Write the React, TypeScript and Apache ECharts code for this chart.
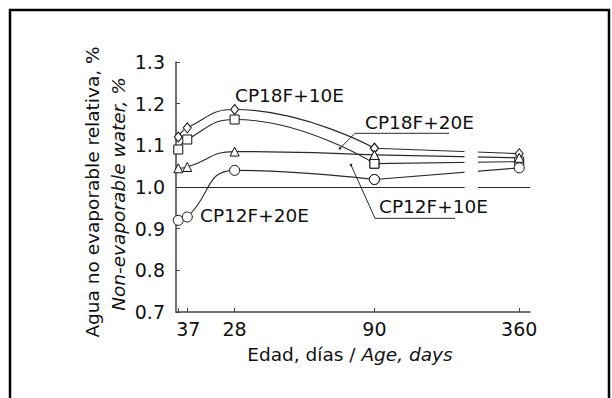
import React, { useEffect, useRef } from "react";
import * as echarts from "echarts";

// ---- data ----
const days = [3, 7, 28, 90, 360];
const xTickDays = [3, 7, 28, 90, 360];
const cp18f10e = [1.12, 1.142, 1.186, 1.093, 1.08]; // diamonds
const cp18f20e = [1.09, 1.114, 1.162, 1.056, 1.061]; // squares
const cp12f10e = [1.045, 1.048, 1.085, 1.077, 1.07]; // triangles
const cp12f20e = [0.92, 0.928, 1.04, 1.018, 1.046]; // circles
const referenceLevel = 1.0;
const axisBreakDays = [258, 283];
const yTickLabels = ["0.7", "0.8", "0.9", "1.0", "1.1", "1.2", "1.3"];

// broken time axis: linear up to 90 days, compressed after that
const KNEE = 90;
const COMPRESS = 0.2378;
const pos = (d: number) => (d <= KNEE ? d : KNEE + (d - KNEE) * COMPRESS);
const dayOf = (p: number) => (p <= KNEE ? p : KNEE + (p - KNEE) / COMPRESS);

const FONT = '"DejaVu Sans", Verdana, sans-serif';
const INK = "#111";
const LINE = "#2a2a2a";

const seriesDefs = [
  { name: "CP18F+10E", values: cp18f10e, symbol: "diamond", size: [8, 10] },
  { name: "CP18F+20E", values: cp18f20e, symbol: "rect", size: 9 },
  { name: "CP12F+10E", values: cp12f10e, symbol: "triangle", size: 9 },
  { name: "CP12F+20E", values: cp12f20e, symbol: "circle", size: 10 },
];

export default function App() {
  const ref = useRef<HTMLDivElement>(null);
  useEffect(() => {
    if (!ref.current) return;
    const chart = echarts.init(ref.current, undefined, { renderer: "svg" });
    const series: any[] = [];
    seriesDefs.forEach((s, k) => {
      const itemStyle = { color: "#fff", borderColor: INK, borderWidth: 1 };
      series.push({
        name: s.name,
        type: "line",
        smooth: 0.5,
        data: days.slice(0, 4).map((d, i) => [pos(d), s.values[i]]),
        symbol: s.symbol,
        symbolSize: s.size,
        itemStyle,
        lineStyle: { color: LINE, width: 1.1 },
        z: 3,
        markLine:
          k === 0
            ? {
                silent: true,
                symbol: "none",
                label: { show: false },
                lineStyle: { color: LINE, width: 1.1, type: "solid" },
                data: [{ yAxis: referenceLevel }],
              }
            : undefined,
      });
      series.push({
        name: s.name + " late",
        type: "line",
        data: days.slice(3).map((d, i) => [pos(d), s.values[i + 3]]),
        symbol: s.symbol,
        symbolSize: s.size,
        itemStyle,
        lineStyle: { color: LINE, width: 1.1 },
        z: 3,
      });
    });

    const shift: Record<string, string> = { "3": "s3", "7": "s7" };
    const tickFont = { fontFamily: FONT, fontSize: 19, color: INK };
    chart.setOption({
      animation: false,
      grid: { left: 176, right: 82, top: 62, bottom: 86 },
      xAxis: {
        type: "value",
        min: 2,
        max: 159,
        splitLine: { show: false },
        axisLine: { lineStyle: { color: "#444", width: 1.5 } },
        axisTick: { inside: true, length: 4, customValues: xTickDays.map(pos), lineStyle: { color: "#444" } },
        axisLabel: {
          customValues: xTickDays.map(pos),
          hideOverlap: false,
          margin: 7,
          ...tickFont,
          formatter: (p: number) => {
            const t = String(Math.round(dayOf(p)));
            return shift[t] ? `{${shift[t]}|${t}}` : `{n|${t}}`;
          },
          rich: {
            s3: { ...tickFont, padding: [0, 0, 0, 8] },
            s7: { ...tickFont, padding: [0, 0, 0, 14] },
            n: { ...tickFont },
          },
        },
      },
      yAxis: {
        type: "value",
        min: 0.7,
        max: 1.3,
        interval: 0.1,
        splitLine: { show: false },
        axisLine: { show: true, lineStyle: { color: "#444", width: 1.5 } },
        axisTick: { show: true, inside: true, length: 4, lineStyle: { color: "#444" } },
        axisLabel: {
          margin: 11,
          hideOverlap: false,
          ...tickFont,
          formatter: (v: number) => yTickLabels[Math.round((v - 0.7) * 10)] ?? v.toFixed(1),
        },
      },
      series,
    });

    const px = (x: number, y: number) => chart.convertToPixel({ gridIndex: 0 }, [x, y]) as number[];
    const b0 = px(pos(axisBreakDays[0]), 1.11);
    const b1 = px(pos(axisBreakDays[1]), 0.98);
    const annFont = `18.5px ${FONT}`;
    const ann = (text: string, x: number, y: number) => ({
      type: "text",
      x,
      y,
      z: 60,
      style: { text, font: annFont, fill: INK, align: "left", verticalAlign: "middle" },
    });
    const seg = (x1: number, y1: number, x2: number, y2: number) => ({
      type: "line",
      z: 60,
      shape: { x1, y1, x2, y2 },
      style: { stroke: LINE, lineWidth: 1 },
    });
    const dot = (cx: number, cy: number) => ({
      type: "circle",
      z: 60,
      shape: { cx, cy, r: 1.3 },
      style: { fill: LINE },
    });

    chart.setOption({
      graphic: [
        {
          type: "rect",
          z: 50,
          shape: { x: b0[0], y: b0[1], width: b1[0] - b0[0], height: b1[1] - b0[1] },
          style: { fill: "#fff" },
        },
        {
          type: "rect",
          z: 70,
          shape: { x: 10, y: 10, width: 599, height: 420 },
          style: { fill: "none", stroke: "#000", lineWidth: 2.5 },
        },
        {
          type: "text",
          x: 92,
          y: 192,
          rotation: Math.PI / 2,
          z: 60,
          style: { text: "Agua no evaporable relativa, %", font: annFont, fill: INK, align: "center", verticalAlign: "middle" },
        },
        {
          type: "text",
          x: 118,
          y: 194,
          rotation: Math.PI / 2,
          z: 60,
          style: { text: "Non-evaporable water, %", font: `italic ${annFont}`, fill: INK, align: "center", verticalAlign: "middle" },
        },
        {
          type: "text",
          x: 350,
          y: 354,
          z: 60,
          style: {
            text: "{a|Edad, días / }{b|Age, days}",
            align: "center",
            verticalAlign: "middle",
            rich: {
              a: { font: annFont, fill: INK },
              b: { font: `italic ${annFont}`, fill: INK },
            },
          },
        },
        ann("CP18F+10E", 235, 95),
        ann("CP18F+20E", 365, 122),
        ann("CP12F+10E", 379, 206),
        ann("CP12F+20E", 200, 215),
        seg(355, 133.3, 449, 133.3),
        seg(355, 133.3, 340, 148.3),
        dot(340, 148.3),
        seg(375, 218.3, 455, 218.3),
        seg(375, 218.3, 351, 165),
        dot(351, 165),
      ],
    });
    return () => chart.dispose();
  }, []);
  return (
    <div
      ref={ref}
      style={{ position: "fixed", left: 0, top: 0, width: 612, height: 398, background: "#fff" }}
    />
  );
}
